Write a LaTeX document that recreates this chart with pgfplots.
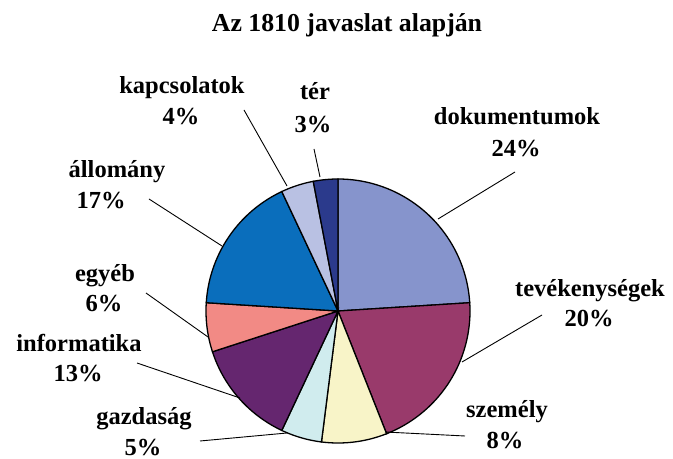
\documentclass[border=0pt]{standalone}
\usepackage{pgfplots}
\pgfplotsset{compat=1.18}
\usepackage{fontspec}
\setmainfont{Liberation Serif}
\definecolor{cDok}{HTML}{8694CC}
\definecolor{cTev}{HTML}{993A6B}
\definecolor{cSzem}{HTML}{F8F4C8}
\definecolor{cGazd}{HTML}{D0ECEE}
\definecolor{cInf}{HTML}{65266F}
\definecolor{cEgy}{HTML}{F28A85}
\definecolor{cAll}{HTML}{0A6EBC}
\definecolor{cKap}{HTML}{B9C1E3}
\definecolor{cTer}{HTML}{2B3A8C}
% pie centre and radius (pixel units, y measured from bottom)
\def\cx{338}\def\cy{148}\def\rr{132}
% slice: cumulative start percent, cumulative end percent, colour
\newcommand{\slice}[3]{%
  \pgfmathsetmacro{\angA}{90-3.6*#2}%
  \pgfmathsetmacro{\angB}{90-3.6*#1}%
  \addplot[fill=#3, draw=black, line width=1.3bp, domain=\angA:\angB, samples=60, smooth=false]
    ({\cx+\rr*cos(x)},{\cy+\rr*sin(x)}) -- (axis cs:\cx,\cy) -- cycle;
}
\begin{document}
\begin{tikzpicture}
\begin{axis}[
  width=673bp, height=459bp, scale only axis,
  xmin=0, xmax=673, ymin=0, ymax=459,
  hide axis, clip=false,
  trig format plots=deg,
]
\addplot[draw=none] coordinates {(0,0) (673,459)};
% percentages: dokumentumok 24, tevekenysegek 20, szemely 8, gazdasag 5,
% informatika 13, egyeb 6, allomany 17, kapcsolatok 4, ter 3
\slice{0}{24}{cDok}
\slice{24}{44}{cTev}
\slice{44}{52}{cSzem}
\slice{52}{57}{cGazd}
\slice{57}{70}{cInf}
\slice{70}{76}{cEgy}
\slice{76}{93}{cAll}
\slice{93}{97}{cKap}
\slice{97}{100}{cTer}
% leader lines
\addplot[black, line width=0.9bp] coordinates {(515,287) (438,240)};
\addplot[black, line width=0.9bp] coordinates {(314,310) (320,282)};
\addplot[black, line width=0.9bp] coordinates {(244,349) (287,273)};
\addplot[black, line width=0.9bp] coordinates {(149,260) (222,213)};
\addplot[black, line width=0.9bp] coordinates {(146,166) (208,122)};
\addplot[black, line width=0.9bp] coordinates {(137,96) (240,61)};
\addplot[black, line width=0.9bp] coordinates {(200,18) (287,26)};
\addplot[black, line width=0.9bp] coordinates {(542,144) (462,97)};
\addplot[black, line width=0.9bp] coordinates {(465,23) (385,27)};
% texts
\tikzset{lab/.style={anchor=base, inner sep=0pt, font=\fontsize{24.5bp}{28bp}\selectfont\bfseries}}
\node[lab, font=\fontsize{25.8bp}{30bp}\selectfont\bfseries] at (axis cs:347,427) {Az 1810 javaslat alapján};
\node[lab] at (axis cs:517,334) {dokumentumok};
\node[lab] at (axis cs:516,302) {24\%};
\node[lab] at (axis cs:315,359) {tér};
\node[lab] at (axis cs:313,326) {3\%};
\node[lab] at (axis cs:182,365) {kapcsolatok};
\node[lab] at (axis cs:181,334) {4\%};
\node[lab] at (axis cs:117,281) {állomány};
\node[lab] at (axis cs:101,250) {17\%};
\node[lab] at (axis cs:105,177) {egyéb};
\node[lab] at (axis cs:104,147) {6\%};
\node[lab] at (axis cs:79,107) {informatika};
\node[lab] at (axis cs:78,77) {13\%};
\node[lab] at (axis cs:144,34) {gazdaság};
\node[lab] at (axis cs:143,4) {5\%};
\node[lab] at (axis cs:590,162) {tevékenységek};
\node[lab] at (axis cs:589,132) {20\%};
\node[lab] at (axis cs:507,41) {személy};
\node[lab] at (axis cs:505,11) {8\%};
\end{axis}
\end{tikzpicture}
\end{document}
